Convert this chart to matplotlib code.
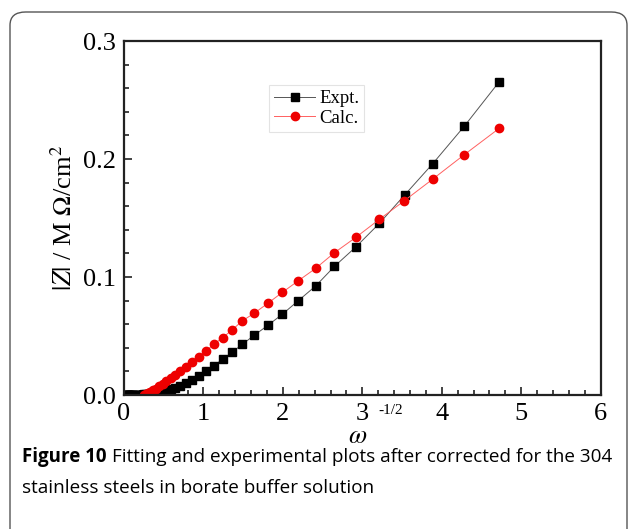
import numpy as np
import matplotlib
matplotlib.use("Agg")
import matplotlib.pyplot as plt
from matplotlib.patches import FancyBboxPatch

plt.rcParams['mathtext.fontset'] = 'stix'

## Data
x_expt = [4.723, 4.282, 3.883, 3.535, 3.215, 2.922, 2.649, 2.414, 2.195, 1.994,
          1.810, 1.637, 1.490, 1.360, 1.240, 1.130, 1.030, 0.940, 0.860, 0.780,
          0.710, 0.645, 0.587, 0.533, 0.485, 0.441, 0.401, 0.364, 0.331, 0.301,
          0.274, 0.249, 0.226, 0.206, 0.187, 0.170, 0.155, 0.141, 0.128, 0.116,
          0.106, 0.096, 0.087, 0.079, 0.072, 0.066, 0.060, 0.054, 0.049, 0.045,
          0.041, 0.037, 0.034, 0.031]
y_expt = [0.2655, 0.2277, 0.1958, 0.1697, 0.1455, 0.1257, 0.1090, 0.0925, 0.0800, 0.0685,
          0.0590, 0.0505, 0.0430, 0.0362, 0.0303, 0.0248, 0.0203, 0.0161, 0.0127, 0.0099,
          0.0076, 0.0060, 0.0047, 0.0036, 0.0028, 0.0022, 0.0017, 0.0013, 0.0010, 0.0008,
          0.0006, 0.0005, 0.0004, 0.0003, 0.0003, 0.0002, 0.0002, 0.0002, 0.0001, 0.0001,
          0.0001, 0.0001, 0.0001, 0.0001, 0.0001, 0.0001, 0.0001, 0.0001, 0.0001, 0.0001,
          0.0001, 0.0001, 0.0001, 0.0001]

x_calc = [4.723, 4.282, 3.883, 3.530, 3.215, 2.922, 2.649, 2.414, 2.195, 1.994,
          1.810, 1.637, 1.490, 1.360, 1.240, 1.130, 1.030, 0.940, 0.860, 0.780,
          0.710, 0.645, 0.587, 0.533, 0.485, 0.441, 0.401, 0.364, 0.331, 0.301,
          0.274, 0.249]
y_calc = [0.2260, 0.2036, 0.1828, 0.1647, 0.1489, 0.1338, 0.1206, 0.1074, 0.0969, 0.0870,
          0.0777, 0.0692, 0.0629, 0.0551, 0.0485, 0.0430, 0.0372, 0.0323, 0.0282, 0.0240,
          0.0203, 0.0170, 0.0142, 0.0116, 0.0093, 0.0073, 0.0055, 0.0040, 0.0027, 0.0016,
          0.0007, 0.0001]

x_ticks = [0, 1, 2, 3, 4, 5, 6]
y_ticks = [0.0, 0.1, 0.2, 0.3]
y_ticklabels = ['0.0', '0.1', '0.2', '0.3']

## Figure
fig = plt.figure(figsize=(6.29, 5.29), dpi=100)

# rounded frame around figure + caption
frame = FancyBboxPatch((10 / 629, -0.05), 617 / 629, 1 - 12 / 529 + 0.05,
                       boxstyle="round,pad=0,rounding_size=0.025",
                       transform=fig.transFigure, facecolor='none',
                       edgecolor='#555555', linewidth=1.0, clip_on=False)
fig.patches.append(frame)

ax = fig.add_axes([124 / 629, 1 - 395 / 529, (600.7 - 124) / 629, (395 - 41) / 529])

serif = 'Liberation Serif'
ax.plot(x_expt, y_expt, '-', color='#555555', lw=0.7, marker='s', ms=5.2,
        mfc='black', mec='black', label='Expt.')
ax.plot(x_calc, y_calc, '-', color='#ff6060', lw=0.7, marker='o', ms=6,
        mfc='#ee0000', mec='#ee0000', label='Calc.')

ax.set_xlim(0, 6)
ax.set_ylim(0, 0.3)
ax.set_xticks(x_ticks)
ax.set_yticks(y_ticks)
ax.set_yticklabels(y_ticklabels)
ax.set_xticks(np.arange(0, 6.01, 0.2), minor=True)
ax.set_yticks(np.arange(0, 0.301, 0.02), minor=True)
ax.tick_params(which='both', direction='in', top=False, right=False, width=1.2, color='#222222')
ax.tick_params(which='major', length=6, labelsize=19, pad=6)
ax.tick_params(which='minor', length=3.5)
for lab in ax.get_xticklabels() + ax.get_yticklabels():
    lab.set_fontfamily(serif)
for sp in ax.spines.values():
    sp.set_linewidth(1.6)
    sp.set_color('#222222')

ax.set_ylabel(r'$|Z|$ / M $\Omega$/cm$^2$', fontsize=19, fontfamily=serif, labelpad=4)

# x label: omega with floating exponent
fig.text(358 / 629, 1 - 437 / 529, r'$\omega$', fontsize=19, fontfamily=serif,
         ha='center', va='center')
fig.text(391 / 629, 1 - 411 / 529, '-1/2', fontsize=11, fontfamily=serif,
         ha='center', va='center')

leg = ax.legend(loc='upper left', bbox_to_anchor=(0.305, 0.875), frameon=True,
                fancybox=False, prop={'family': serif, 'size': 13.5},
                handlelength=2.2, handletextpad=0.2, borderpad=0.25,
                labelspacing=0.15, borderaxespad=0)
leg.get_frame().set_edgecolor('#dddddd')
leg.get_frame().set_linewidth(0.8)

# caption
fig.text(22 / 629, 1 - 462 / 529, 'Figure 10', fontsize=13.5, fontweight='bold',
         fontfamily='Open Sans', ha='left', va='baseline')
fig.text(112 / 629, 1 - 462 / 529, 'Fitting and experimental plots after corrected for the 304',
         fontsize=13.6, fontfamily='Open Sans', ha='left', va='baseline')
fig.text(22 / 629, 1 - 493 / 529, 'stainless steels in borate buffer solution',
         fontsize=13.6, fontfamily='Open Sans', ha='left', va='baseline')

fig.savefig('out.png', dpi=100)
